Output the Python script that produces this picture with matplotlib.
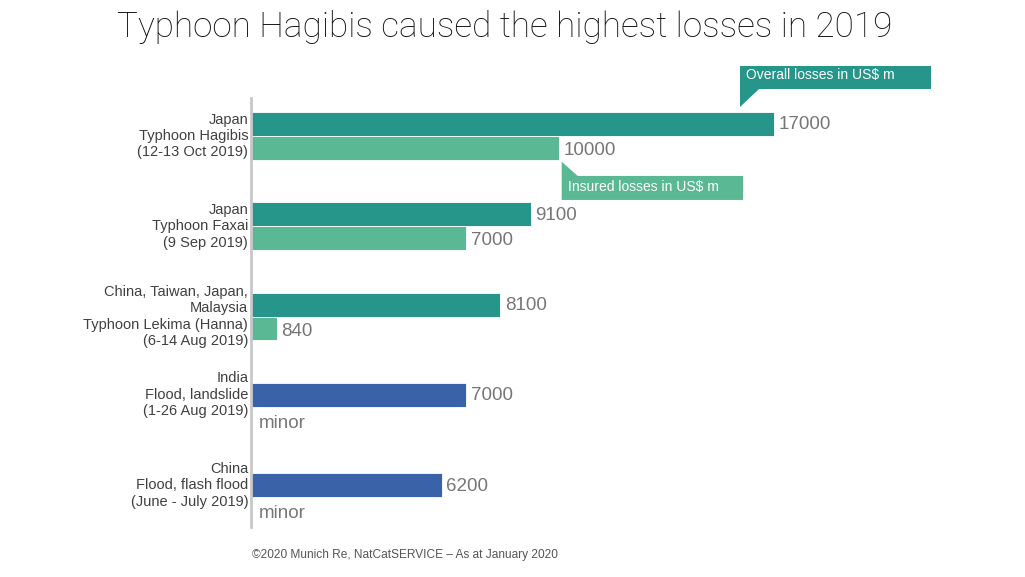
import matplotlib.pyplot as plt
from matplotlib.patches import Polygon

plt.rcParams['font.family'] = ['Liberation Sans', 'DejaVu Sans']

# data (US$ m)
events = [
    "Japan\nTyphoon Hagibis\n(12-13 Oct 2019)",
    "Japan\nTyphoon Faxai\n(9 Sep 2019)",
    "China, Taiwan, Japan,\nMalaysia\nTyphoon Lekima (Hanna)\n(6-14 Aug 2019)",
    "India\nFlood, landslide\n(1-26 Aug 2019)",
    "China\nFlood, flash flood\n(June - July 2019)",
]
overall = [17000, 9100, 8100, 7000, 6200]
insured = [10000, 7000, 840, None, None]

teal = "#26968A"
green = "#5BB894"
blue = "#3A62A8"
grey = "#767676"

fig = plt.figure(figsize=(10.25, 5.77), dpi=100)
ax = fig.add_axes([251 / 1025, 50 / 577, 749 / 1025, 429 / 577])

h = 0.265
for i, (name, ov, ins) in enumerate(zip(events, overall, insured)):
    col = teal if ins is not None else blue
    ax.barh(i - h / 2, ov, height=h, color=col, edgecolor="white", linewidth=0.6)
    ax.text(ov + 150, i - h / 2 + 0.01, str(ov), va="center", ha="left", fontsize=13.5, color=grey)
    if ins is not None:
        ax.barh(i + h / 2, ins, height=h, color=green, edgecolor="white", linewidth=0.6)
        ax.text(ins + 150, i + h / 2 + 0.03, str(ins), va="center", ha="left", fontsize=13.5, color=grey)
        ly = i
    else:
        ax.text(260, i + h / 2 + 0.05, "minor", va="center", ha="left", fontsize=13.5, color=grey)
        ly = i - h / 2
    ax.text(-90, ly, name, va="center", ha="right", fontsize=10.5, color="#404040", linespacing=1.22)

ax.set_xlim(0, 24350)
ax.set_ylim(4.33, -0.42)
for s in ["top", "right", "bottom"]:
    ax.spines[s].set_visible(False)
ax.spines["left"].set_color("#C8C8C8")
ax.spines["left"].set_linewidth(2)
ax.set_xticks([])
ax.set_yticks([])

# callouts
x0 = overall[0] - 1100
ax.add_patch(Polygon([[x0, -0.32], [x0, -0.776], [x0 + 6200, -0.776], [x0 + 6200, -0.52],
                      [x0 + 600, -0.52]], closed=True, color=teal, clip_on=False, lw=0))
ax.text(x0 + 200, -0.67, "Overall losses in US$ m", color="white", fontsize=10, va="center")

x1 = insured[0] + 100
ax.add_patch(Polygon([[x1, 0.285], [x1 + 520, 0.443], [x1 + 5900, 0.443], [x1 + 5900, 0.709],
                      [x1, 0.709]], closed=True, color=green, clip_on=False, lw=0))
ax.text(x1 + 200, 0.56, "Insured losses in US$ m", color="white", fontsize=10, va="center")

fig.text(505 / 1025, 1 - 27 / 577, "Typhoon Hagibis caused the highest losses in 2019",
         ha="center", va="center", fontsize=25.3, color="#111111",
         family=["Roboto", "Liberation Sans"], fontweight="light")
fig.text(252 / 1025, 1 - 555 / 577, "©2020 Munich Re, NatCatSERVICE – As at January 2020",
         ha="left", va="center", fontsize=8.6, color="#555555")

fig.savefig("out.png", dpi=100)
